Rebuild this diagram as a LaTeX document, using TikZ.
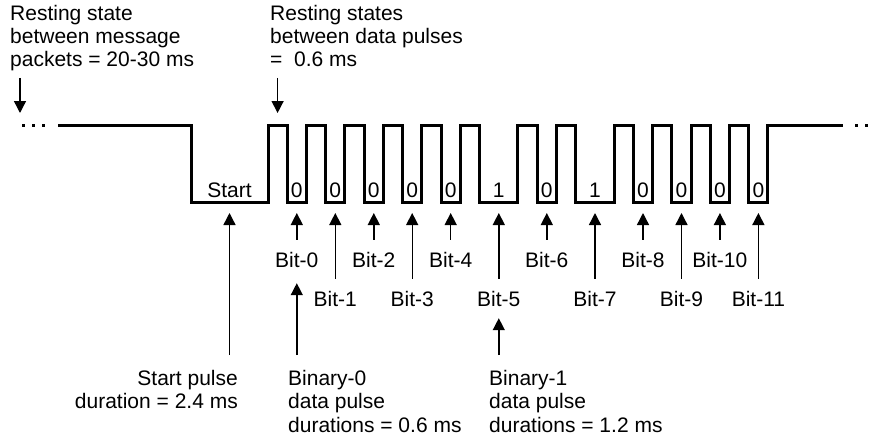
\documentclass[tikz,border=0pt]{standalone}
\usepackage{fontspec}
\setmainfont{Liberation Sans}
\usetikzlibrary{arrows.meta,positioning}
\tikzset{
  >={Triangle[length=12pt,width=12pt]},
  wave/.style={line width=3pt,line join=miter},
  arr/.style={->,line width=1.4pt},
  txt/.style={font=\fontsize{21}{23.3}\selectfont,inner sep=0pt,text depth=0pt},
  note/.style={txt,align=left},
}
\begin{document}
\begin{tikzpicture}[x=1pt,y=-1pt]
\useasboundingbox (0,0) rectangle (871,440);
\def\bitw{19.23}
\draw[wave] (58,125) -- (191,125) -- (191,202) -- (268,202)
  \foreach \b in {0,0,0,0,0,1,0,1,0,0,0,0}{ -- ++(0,-77) -- ++(\bitw,0) -- ++(0,77) -- ++({(1+\b)*\bitw},0)}
  -- ++(0,-77) -- (843,125);
\draw[wave,dash pattern=on 3pt off 7pt] (22,125) -- (46,125);
\draw[wave,dash pattern=on 3pt off 7pt] (855,125) -- (871,125);
\coordinate (restL) at (20,125);
\coordinate (restH) at (277.6,125);
\coordinate (startlow) at (229.5,202);
\node[note,anchor=north west] (restmsg) at (10,4.7) {Resting state\\between message\\packets = 20-30 ms};
\node[note,anchor=north west] (restdata) at (270,4.7) {Resting states\\between data pulses\\=\ \ 0.6 ms};
\draw[arr,shorten <=11pt,shorten >=12pt] (restmsg.south -| restL) -- (restL);
\draw[arr,shorten <=11pt,shorten >=12pt] (restdata.south -| restH) -- (restH);
\node[txt,anchor=base] (startlbl) at (229.5,197) {Start};
\foreach \i/\x/\v in {0/296.8/0,1/335.3/0,2/373.8/0,3/412.2/0,4/450.7/0,5/498.8/1,6/546.8/0,7/595/1,8/643/0,9/681.5/0,10/719.9/0,11/758.4/0}{
  \pgfmathsetmacro\yb{267+39*mod(\i,2)}
  \coordinate (t\i) at (\x,202);
  \node[txt,anchor=base] (v\i) at (\x,197) {\v};
  \node[txt,anchor=base] (lb\i) at (\x,\yb) {Bit-\i};
  \draw[arr,shorten <=12pt,shorten >=11pt] (lb\i.north) -- (t\i);
}
\node[note,align=right,anchor=north east] (startpulse) at (238,370) {Start pulse\\duration = 2.4 ms};
\node[note,anchor=north west] (bin0) at (288,370) {Binary-0\\data pulse\\durations = 0.6 ms};
\node[note,anchor=north west] (bin1) at (489,370) {Binary-1\\data pulse\\durations = 1.2 ms};
\draw[arr,shorten <=15pt,shorten >=11pt] (startpulse.north -| startlow) -- (startlow);
\draw[arr,shorten <=15pt,shorten >=16pt] (bin0.north -| lb0) -- (lb0.south);
\draw[arr,shorten <=15pt,shorten >=12pt] (bin1.north -| lb5) -- (lb5.south);
\end{tikzpicture}
\end{document}
